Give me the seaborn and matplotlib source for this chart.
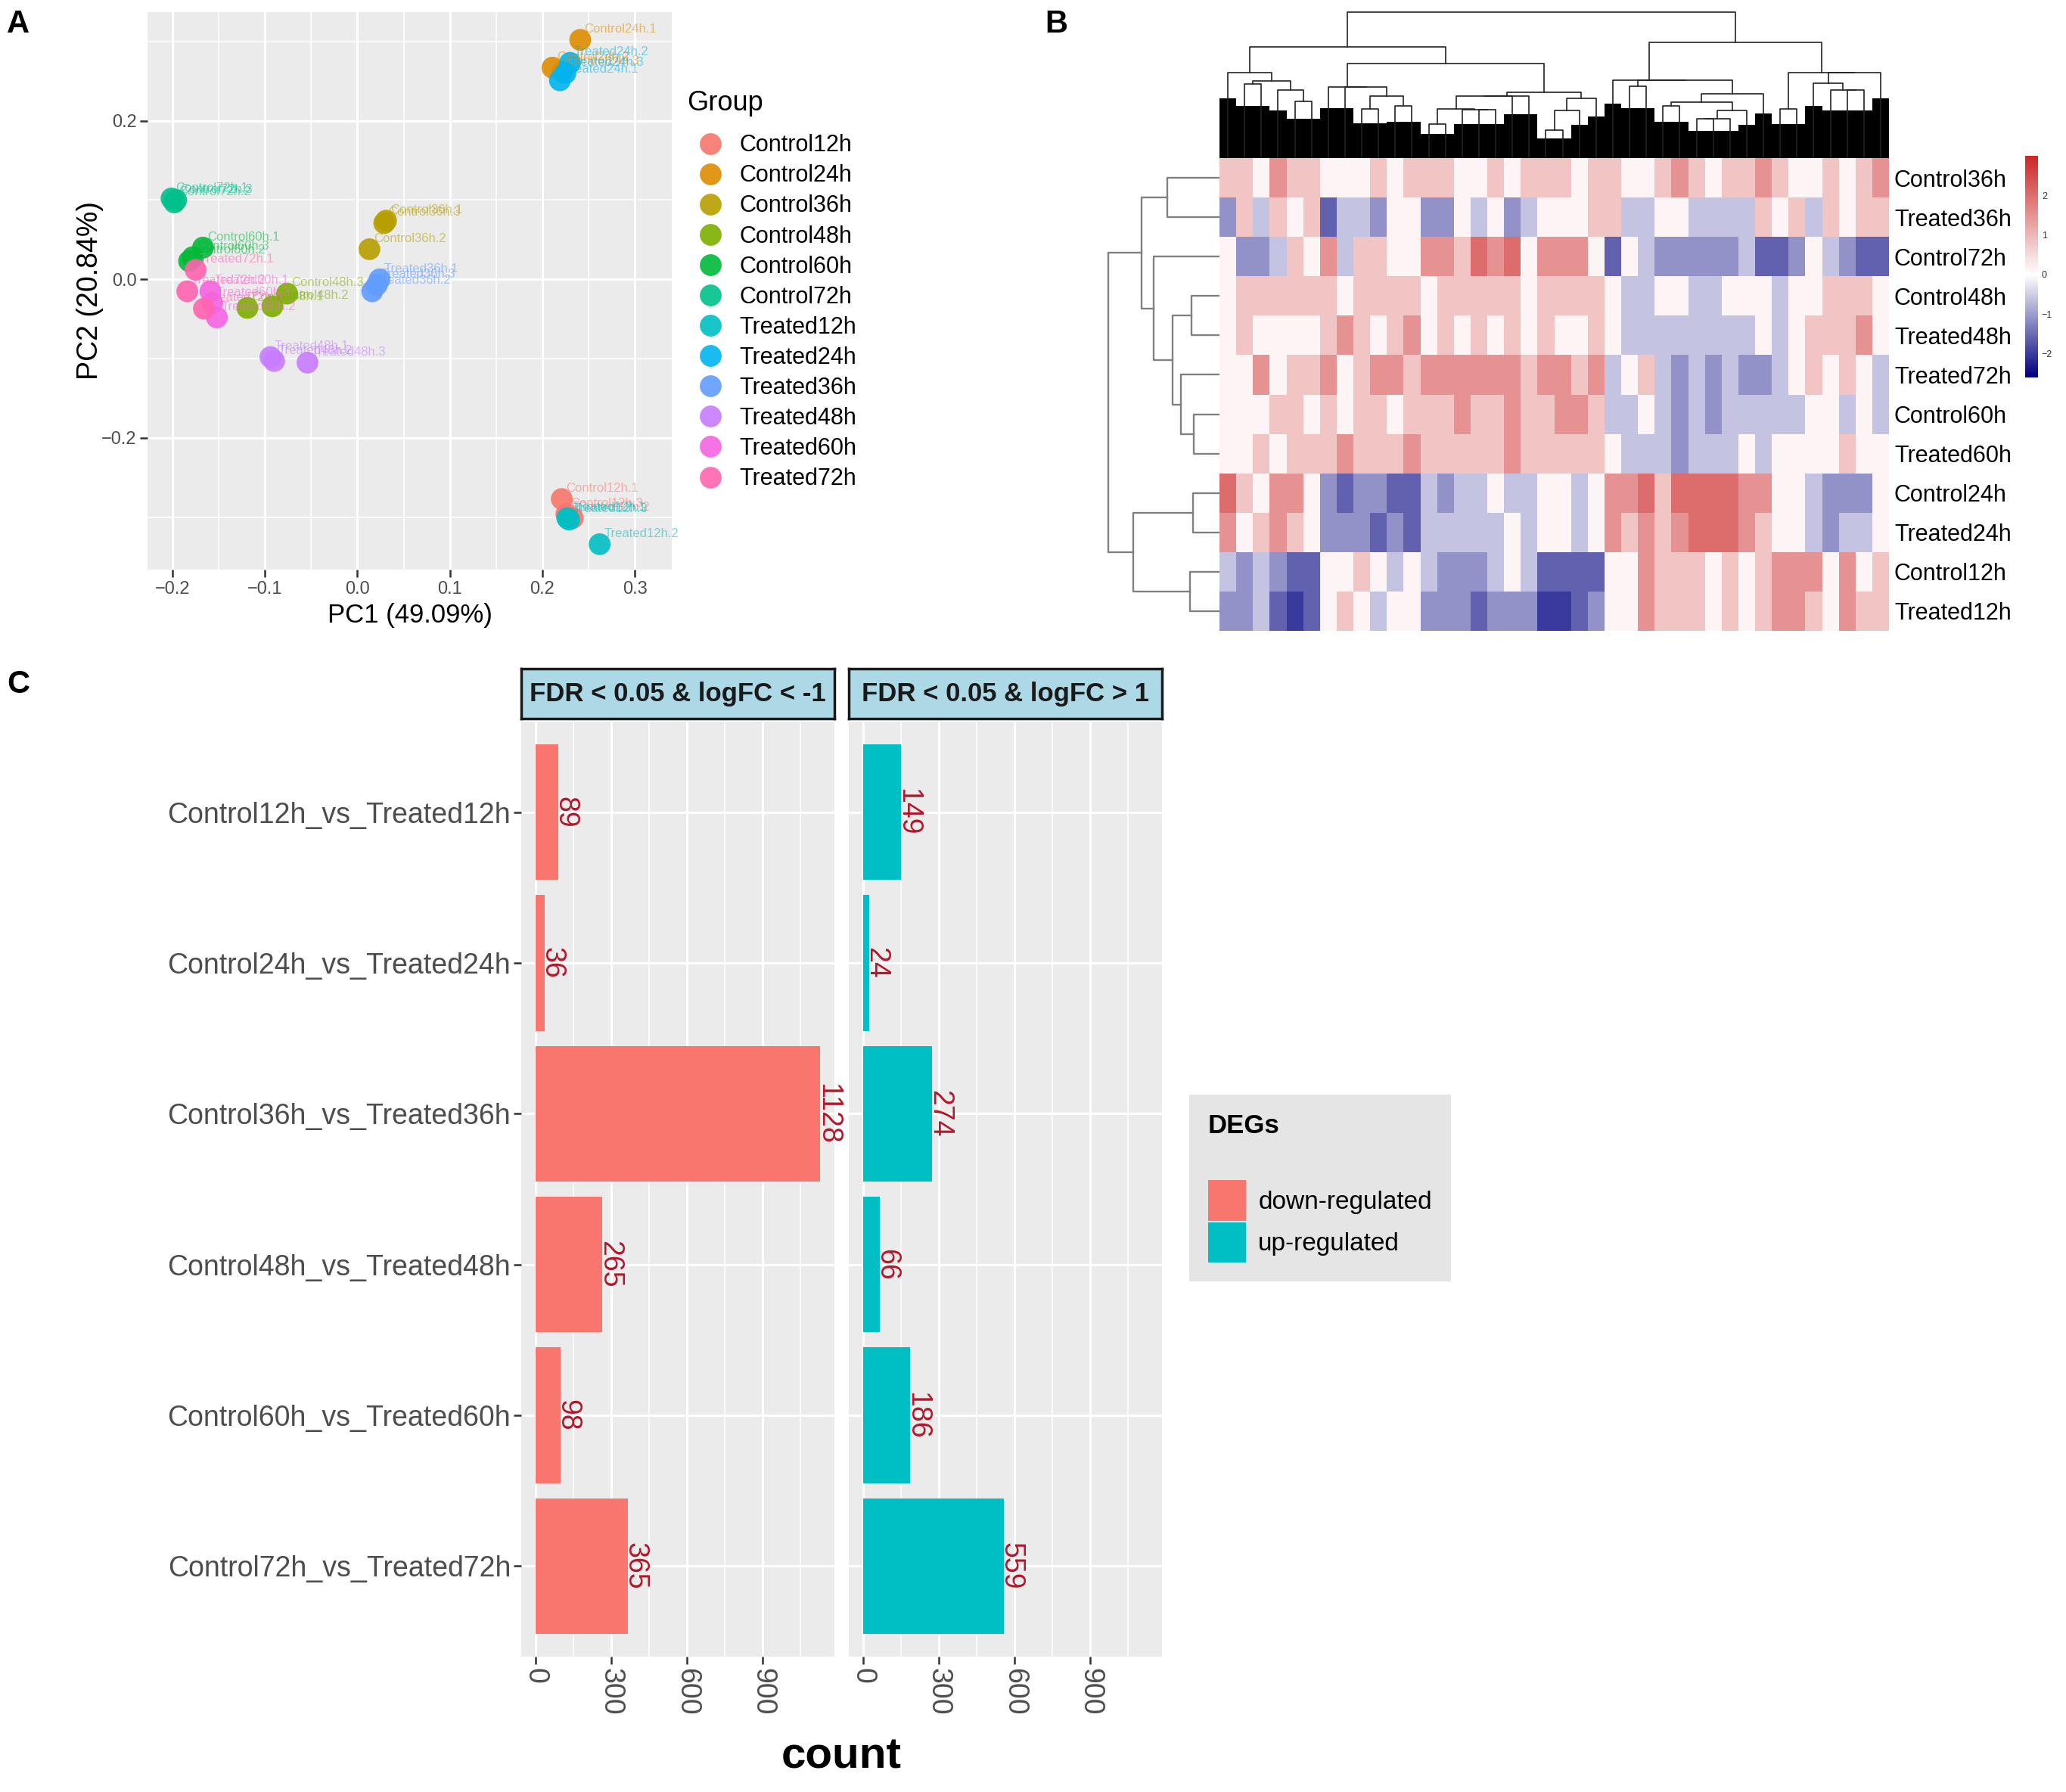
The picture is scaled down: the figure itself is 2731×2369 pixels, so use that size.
import numpy as np
import pandas as pd
import matplotlib
matplotlib.use('Agg')
import matplotlib.pyplot as plt
import seaborn as sns
from matplotlib.colors import LinearSegmentedColormap
from matplotlib.ticker import MultipleLocator
from matplotlib.patches import Patch

plt.rcParams['font.family'] = ['Liberation Sans', 'DejaVu Sans']

# ---- panel A : PCA of the 36 samples (3 replicates per group) ----
groups = ['Control12h', 'Control24h', 'Control36h', 'Control48h', 'Control60h', 'Control72h',
          'Treated12h', 'Treated24h', 'Treated36h', 'Treated48h', 'Treated60h', 'Treated72h']
group_colors = ['#F8766D', '#DE8C00', '#B79F00', '#7CAE00', '#00BA38', '#00C08B',
                '#00BFC4', '#00B4F0', '#619CFF', '#C77CFF', '#F564E3', '#FF64B0']
pc1 = [
    [0.221, 0.233, 0.226],
    [0.241, 0.211, 0.222],
    [0.031, 0.013, 0.029],
    [-0.119, -0.092, -0.076],
    [-0.167, -0.182, -0.178],
    [-0.201, -0.198, -0.196],
    [0.227, 0.262, 0.229],
    [0.219, 0.230, 0.225],
    [0.024, 0.016, 0.021],
    [-0.094, -0.090, -0.054],
    [-0.159, -0.152, -0.157],
    [-0.175, -0.184, -0.166],
]
pc2 = [
    [-0.277, -0.301, -0.296],
    [0.302, 0.267, 0.262],
    [0.074, 0.038, 0.071],
    [-0.036, -0.034, -0.018],
    [0.040, 0.023, 0.028],
    [0.102, 0.097, 0.100],
    [-0.301, -0.334, -0.303],
    [0.251, 0.273, 0.260],
    [0.000, -0.015, -0.007],
    [-0.098, -0.103, -0.105],
    [-0.015, -0.048, -0.030],
    [0.012, -0.015, -0.037],
]

# ---- panel B : heatmap, 12 samples x 40 gene blocks (level codes 0..7) ----
heat_rows = ['Control36h', 'Treated36h', 'Control72h', 'Control48h', 'Treated48h', 'Treated72h',
             'Control60h', 'Treated60h', 'Control24h', 'Treated24h', 'Control12h', 'Treated12h']
heat_codes = [
    "55465544454555445455" "54554456545565445456",
    "25354513324422434234" "44553344333354535455",
    "42235463554466576746" "66414322222311243211",
    "45555554555545555545" "55543344334443445554",
    "45444456545645454545" "44543333333343455564",
    "44645564566566666656" "65634532323223454543",
    "44455454554555655655" "66533432323333344343",
    "44545556555655555655" "55543332333434444544",
    "75466421221132334334" "43466757777664432224",
    "64565422212133333434" "43465656777654432334",
    "32321144543432223431" "11144655545456664645",
    "22310145434422212220" "01244655545456654655",
]
code_values = [-2.0, -1.6, -1.1, -0.6, 0.15, 0.8, 1.5, 2.0]
# row dendrogram: (left, right, height), ids >= 12 are earlier merges
row_merges = [(0, 1, 2.02), (3, 4, 1.10), (6, 7, 1.00), (5, 14, 1.50), (13, 15, 1.82),
              (2, 16, 2.55), (12, 17, 3.02), (8, 9, 1.02), (10, 11, 1.15), (19, 20, 3.35),
              (18, 21, 4.30)]

# ---- panel C : DEG counts ----
comparisons = ['Control12h_vs_Treated12h', 'Control24h_vs_Treated24h', 'Control36h_vs_Treated36h',
               'Control48h_vs_Treated48h', 'Control60h_vs_Treated60h', 'Control72h_vs_Treated72h']
down_counts = [89, 36, 1128, 265, 98, 365]
up_counts = [149, 24, 274, 66, 186, 559]
facet_titles = ['FDR < 0.05 & logFC < -1', 'FDR < 0.05 & logFC > 1']
deg_labels = ['down-regulated', 'up-regulated']
deg_colors = ['#F8766D', '#00BFC4']

W, H = 2731, 2369
fig = plt.figure(figsize=(W / 100, H / 100), dpi=100)


def box(x0, y0, x1, y1):
    return fig.add_axes([x0 / W, 1 - y1 / H, (x1 - x0) / W, (y1 - y0) / H])


def gg_panel(ax):
    ax.set_facecolor('#EBEBEB')
    for s in ax.spines.values():
        s.set_visible(False)
    ax.set_axisbelow(True)
    ax.grid(which='major', color='white', lw=2.2)
    ax.grid(which='minor', color='white', lw=1.1)
    ax.tick_params(which='major', length=7, width=1.8, color='#333333', labelcolor='#4D4D4D')
    ax.tick_params(which='minor', length=0)


# ================= A =================
rows = []
for g, xs, ys in zip(groups, pc1, pc2):
    for k, (x, y) in enumerate(zip(xs, ys)):
        rows.append({'Group': g, 'PC1': x, 'PC2': y, 'sample': f'{g}.{k + 1}'})
pca = pd.DataFrame(rows)

axA = box(195, 16, 888, 753)
sns.scatterplot(data=pca, x='PC1', y='PC2', hue='Group', hue_order=groups, palette=group_colors,
                s=430, linewidth=0, alpha=0.9, ax=axA)
for _, r in pca.iterrows():
    axA.annotate(r['sample'], (r['PC1'], r['PC2']), xytext=(4, 7), textcoords='offset points',
                 fontsize=12, color=group_colors[groups.index(r['Group'])], alpha=0.55)
axA.set_xlim(-0.227, 0.340)
axA.set_ylim(-0.366, 0.337)
axA.xaxis.set_major_locator(MultipleLocator(0.1))
axA.xaxis.set_minor_locator(MultipleLocator(0.05))
axA.yaxis.set_major_locator(MultipleLocator(0.2))
axA.yaxis.set_minor_locator(MultipleLocator(0.1))
gg_panel(axA)
axA.tick_params(labelsize=17)
axA.set_xlabel('PC1 (49.09%)', fontsize=25, labelpad=5)
axA.set_ylabel('PC2 (20.84%)', fontsize=27, labelpad=-2)
sns.move_legend(axA, 'upper left', bbox_to_anchor=(0.99, 0.898), frameon=False, title='Group',
                fontsize=22, title_fontsize=26, alignment='left', labelspacing=0.33,
                handletextpad=0.25, markerscale=1.0)
axA.get_legend()._legend_box.sep = 17

# ================= B =================
heat = pd.DataFrame([[code_values[int(c)] for c in row] for row in heat_codes], index=heat_rows)
cmap = LinearSegmentedColormap.from_list(
    'nwf', [(0.0, '#000080'), (2.6 / 5.6, '#FFFFFF'), (1.0, '#CD2626')])

axH = box(1612, 209, 2497, 834)
cax = box(2677, 206, 2694, 499)
sns.heatmap(heat, cmap=cmap, vmin=-2.6, vmax=3.0, ax=axH, cbar_ax=cax,
            xticklabels=False, yticklabels=heat_rows)
axH.yaxis.tick_right()
axH.tick_params(axis='y', length=0, labelsize=22, rotation=0, pad=5)
axH.set_ylabel('')
cbar = axH.collections[0].colorbar
cbar.set_ticks([-2, -1, 0, 1, 2])
cbar.outline.set_visible(False)
cax.tick_params(length=0, labelsize=9, colors='#333333')

# row dendrogram
axR = box(1462, 209, 1612, 834)
pos = {i: i + 0.5 for i in range(len(heat_rows))}
hgt = {i: 0.0 for i in range(len(heat_rows))}
for k, (a, b, h) in enumerate(row_merges):
    axR.plot([hgt[a], h, h, hgt[b]], [pos[a], pos[a], pos[b], pos[b]], color='#808080', lw=1.7)
    pos[12 + k] = (pos[a] + pos[b]) / 2
    hgt[12 + k] = h
axR.set_xlim(4.4, 0)
axR.set_ylim(len(heat_rows), 0)
axR.axis('off')

# column dendrogram, built from the heat blocks keeping their order
M = heat.values
n = M.shape[1]
D = np.sqrt(((M[:, :, None] - M[:, None, :]) ** 2).sum(axis=0))
clusters = [[i] for i in range(n)]
cx = [i + 0.5 for i in range(n)]
ch = [0.0] * n
leaf_h = [0.0] * n
segs = []
while len(clusters) > 1:
    d = [D[np.ix_(clusters[j], clusters[j + 1])].mean() for j in range(len(clusters) - 1)]
    j = int(np.argmin(d))
    h = max(d[j], ch[j], ch[j + 1])
    segs.append(([cx[j], cx[j], cx[j + 1], cx[j + 1]], [ch[j], h, h, ch[j + 1]]))
    for k in (j, j + 1):
        if len(clusters[k]) == 1:
            leaf_h[clusters[k][0]] = h
    clusters[j] = clusters[j] + clusters[j + 1]
    cx[j] = (cx[j] + cx[j + 1]) / 2
    ch[j] = h
    del clusters[j + 1], cx[j + 1], ch[j + 1]

axD = box(1612, 12, 2497, 209)
for xs, ys in segs:
    axD.plot(xs, ys, color='#222222', lw=1.2)
# dense leaf branches drawn as a solid mass under each leaf
axD.bar(np.arange(n) + 0.5, np.array(leaf_h) * 0.7, width=1.0, color='black')
axD.set_xlim(0, n)
axD.set_ylim(0, ch[0] * 1.02)
axD.axis('off')

# ================= C =================
facets = [(689, 1103, down_counts, deg_colors[0]), (1122, 1536, up_counts, deg_colors[1])]
for i, (x0, x1, counts, col) in enumerate(facets):
    ax = box(x0, 954, x1, 2190)
    sns.barplot(x=counts, y=comparisons, orient='h', color=col, saturation=1, width=0.9, ax=ax)
    for yi, v in enumerate(counts):
        ax.annotate(str(v), (v, yi), xytext=(-6, 0), textcoords='offset points', rotation=-90,
                    ha='left', va='center', fontsize=27, color='#B2182B')
    ax.set_xlim(-56.4, 1184.4)
    ax.set_ylim(5.6, -0.6)
    ax.xaxis.set_major_locator(MultipleLocator(300))
    ax.xaxis.set_minor_locator(MultipleLocator(150))
    gg_panel(ax)
    ax.tick_params(axis='x', labelsize=27, labelrotation=-90)
    ax.tick_params(axis='y', labelsize=27, pad=3)
    ax.set_xlabel('')
    ax.set_ylabel('')
    if i == 1:
        ax.tick_params(axis='y', length=0, labelleft=False)
    strip = box(x0, 884, x1, 950)
    strip.set_facecolor('#ADD8E6')
    strip.set_xticks([])
    strip.set_yticks([])
    for s in strip.spines.values():
        s.set_linewidth(2.5)
        s.set_color('#1A1A1A')
    strip.text(0.5, 0.5, facet_titles[i], ha='center', va='center', fontsize=25,
               fontweight='bold', color='#1A1A1A', transform=strip.transAxes)

fig.text(1112 / W, 1 - 2323 / H, 'count', ha='center', va='center', fontsize=42, fontweight='bold')

handles = [Patch(facecolor=c, edgecolor='none') for c in deg_colors]
leg = fig.legend(handles, deg_labels, loc='upper left', bbox_to_anchor=(1555 / W, 1 - 1430 / H),
                 title='DEGs', fontsize=24, title_fontsize=25, alignment='left', frameon=True,
                 fancybox=False, facecolor='#E5E5E5', edgecolor='none', framealpha=1,
                 handlelength=1.5, handleheight=2.1, labelspacing=0.05, borderpad=0.75,
                 handletextpad=0.5)
leg.get_title().set_fontweight('bold')
leg._legend_box.sep = 40

for letter, x, y in [('A', 9, 12), ('B', 1381, 12), ('C', 9, 885)]:
    fig.text(x / W, 1 - y / H, letter, fontsize=30, fontweight='bold', va='top', ha='left')

fig.savefig('out.png', dpi=100)
